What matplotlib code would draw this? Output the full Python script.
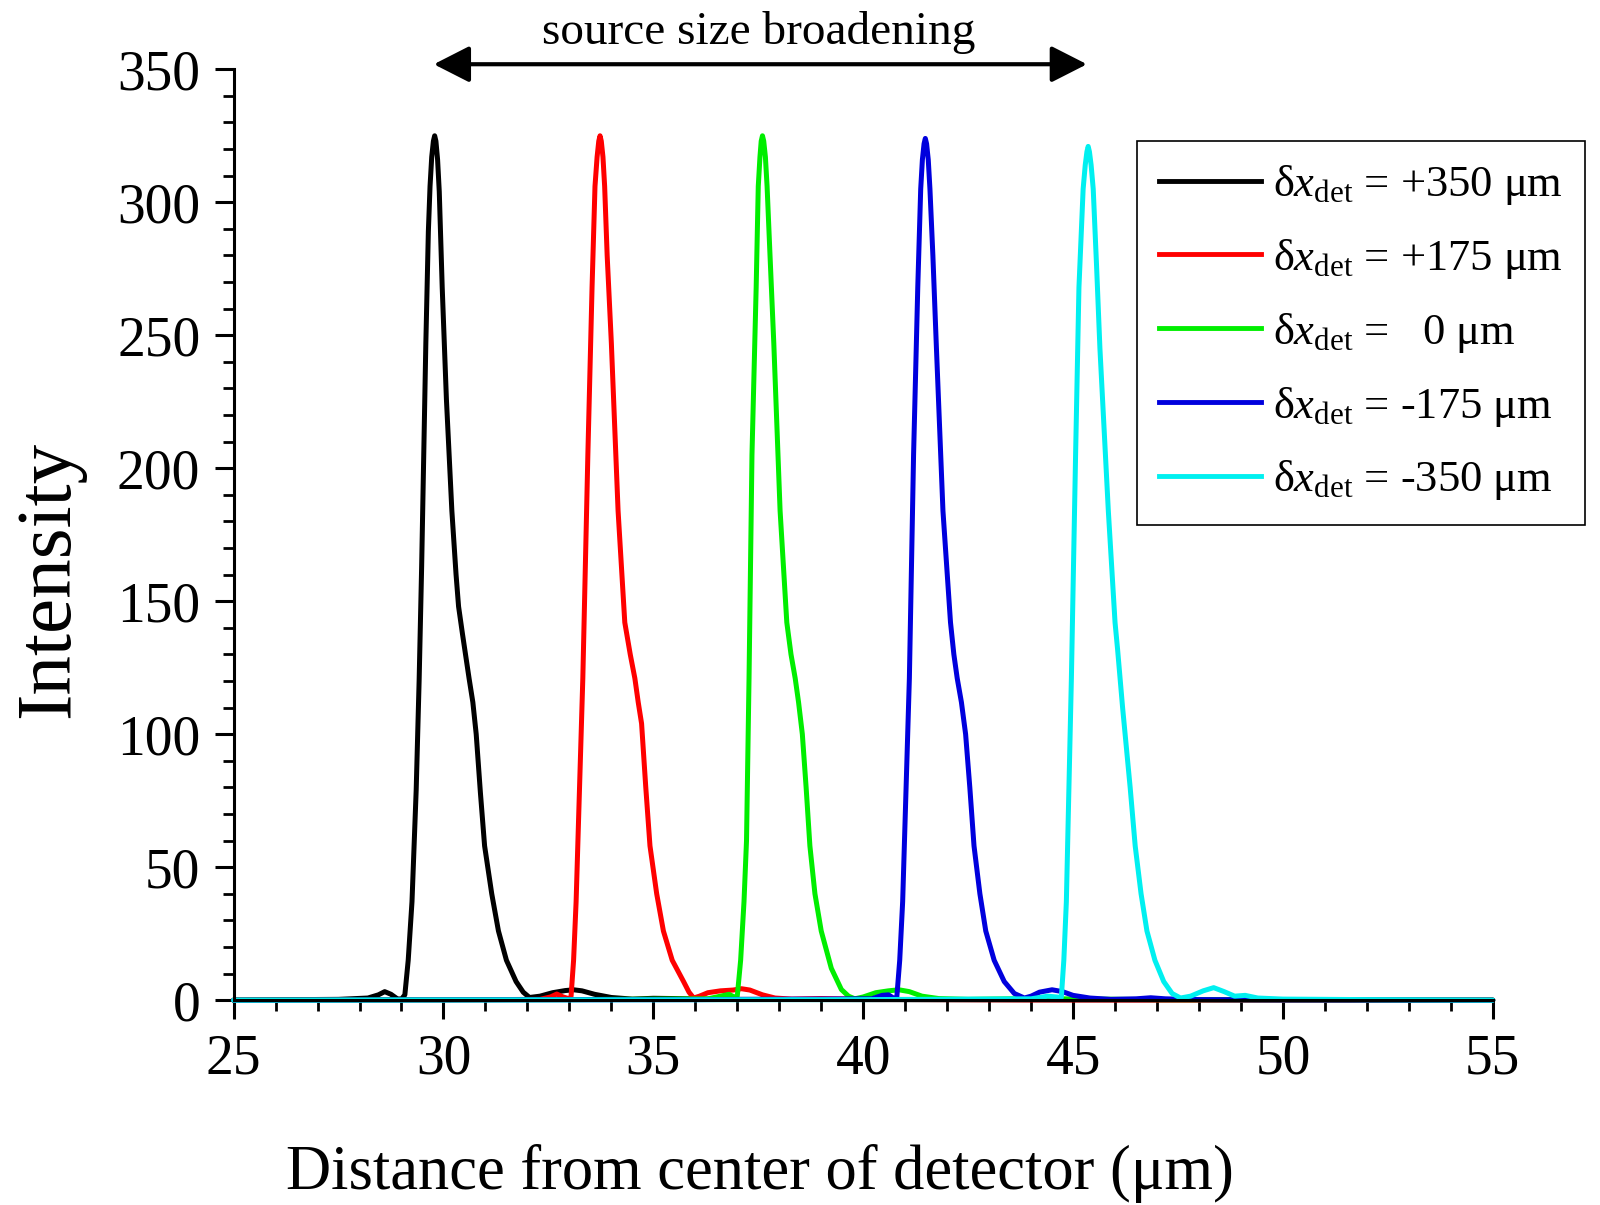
import matplotlib
matplotlib.use("Agg")
import matplotlib.pyplot as plt
from matplotlib.ticker import MultipleLocator
from matplotlib.lines import Line2D

plt.rcParams['font.family'] = ['Liberation Serif', 'DejaVu Serif']
plt.rcParams['mathtext.fontset'] = 'custom'
plt.rcParams['mathtext.rm'] = 'Liberation Serif'
plt.rcParams['mathtext.it'] = 'Liberation Serif:italic'

# ---- data ----
black_x = [25.0, 26.5, 27.5, 28.2, 28.45, 28.6, 28.75, 28.9, 29.0, 29.08, 29.16, 29.25, 29.35, 29.42, 29.48,
           29.58, 29.64, 29.68, 29.72, 29.76, 29.79, 29.82, 29.86, 29.9, 29.97, 30.07, 30.2, 30.3, 30.36, 30.45, 30.61,
           30.7, 30.78, 30.88, 30.98, 31.15, 31.31, 31.5, 31.73, 31.9, 32.05, 32.3, 32.6, 32.9, 33.1, 33.3,
           33.6, 34.0, 34.5, 35.0, 35.5, 36.5, 40.0, 45.0, 55.0]
black_y = [0, 0.2, 0.3, 0.8, 2.0, 3.2, 2.2, 0.5, 0.4, 2, 15, 37, 79, 120, 163,
           247, 289, 306, 317, 323, 325, 323, 316, 304, 268, 226, 184, 160, 148, 138, 121,
           112, 100, 78, 58, 40, 26, 15, 7, 3, 1, 1.5, 2.8, 3.6, 3.9, 3.5,
           2.2, 1.0, 0.4, 0.7, 0.6, 0.3, 0.2, 0.1, 0]

red_x = [25.0, 30.0, 32.3, 32.55, 32.7, 32.85, 33.0, 33.04, 33.1, 33.16, 33.24, 33.32, 33.44, 33.54, 33.61,
         33.66, 33.7, 33.73, 33.76, 33.8, 33.84, 33.9, 34.0, 34.16, 34.32, 34.45, 34.56, 34.64, 34.72, 34.82, 34.92,
         35.08, 35.24, 35.45, 35.72, 35.85, 35.96, 36.1, 36.3, 36.6, 36.9, 37.1, 37.3, 37.6, 37.9, 38.3,
         39.0, 40.0, 44.0, 55.0]
red_y = [0, 0.1, 0.3, 1.2, 2.3, 1.2, 0.5, 1.5, 15, 37, 79, 121, 205, 268, 306,
         317, 323, 325, 323, 317, 306, 280, 247, 184, 142, 130, 121, 112, 104, 80, 58,
         40, 26, 15, 7, 3, 0.8, 1.5, 2.8, 3.5, 3.8, 4.3, 3.8, 2.0, 0.8, 0.4,
         0.6, 0.3, 0.1, 0]

green_x = [25.0, 33.0, 36.3, 36.6, 36.8, 36.95, 37.0, 37.08, 37.16, 37.22, 37.28, 37.35, 37.45, 37.5,
           37.54, 37.57, 37.6, 37.63, 37.67, 37.71, 37.78, 37.87, 38.02, 38.18, 38.28, 38.38, 38.46, 38.55, 38.64,
           38.73, 38.85, 39.0, 39.24, 39.48, 39.65, 39.8, 40.0, 40.3, 40.6, 40.85, 41.1, 41.4, 41.8, 42.5,
           44.0, 47.0, 55.0]
green_y = [0, 0.2, 0.5, 1.5, 2.2, 1.0, 1.5, 15, 37, 60, 121, 205, 268, 306,
           317, 323, 325, 323, 317, 306, 280, 247, 184, 142, 130, 121, 112, 100, 80,
           58, 40, 26, 12, 4, 1.5, 0.5, 1.2, 2.8, 3.5, 3.9, 3.2, 1.5, 0.6, 0.3,
           0.6, 0.2, 0]

blue_x = [25.0, 36.0, 40.2, 40.45, 40.6, 40.72, 40.8, 40.87, 40.94, 41.02, 41.1, 41.2, 41.3, 41.37, 41.41,
          41.45, 41.48, 41.51, 41.55, 41.59, 41.66, 41.74, 41.9, 42.08, 42.16, 42.24, 42.34, 42.44, 42.54,
          42.64, 42.78, 42.92, 43.12, 43.36, 43.6, 43.84, 44.0, 44.2, 44.5, 44.75, 45.0, 45.4, 45.9, 46.5,
          46.85, 47.2, 48.0, 50.0, 55.0]
blue_y = [0, 0.2, 0.5, 1.8, 2.0, 0.8, 1.0, 15, 37, 79, 121, 205, 268, 305, 316,
          322, 324, 322, 316, 305, 280, 247, 184, 142, 130, 121, 112, 100, 80,
          58, 40, 26, 15, 7, 2.5, 0.8, 1.5, 3.0, 3.9, 3.2, 1.8, 0.8, 0.3, 0.5,
          0.9, 0.5, 0.2, 0.1, 0]

cyan_x = [25.0, 40.0, 44.0, 44.4, 44.6, 44.72, 44.78, 44.84, 44.9, 44.96, 45.06, 45.14, 45.24, 45.29, 45.33,
          45.36, 45.39, 45.43, 45.48, 45.56, 45.64, 45.84, 46.0, 46.06, 46.12, 46.18, 46.24, 46.36, 46.48,
          46.62, 46.76, 46.95, 47.16, 47.36, 47.56, 47.8, 48.1, 48.35, 48.6, 48.85, 49.1, 49.4, 50.0, 52.0, 55.0]
cyan_y = [0, 0.2, 0.5, 1.5, 1.2, 1.0, 15, 37, 79, 121, 205, 268, 305, 314, 319,
          321, 319, 314, 305, 276, 245, 184, 142, 132, 121, 110, 100, 80, 58,
          40, 26, 15, 7, 2.5, 0.8, 1.5, 3.5, 4.7, 3.2, 1.5, 1.8, 0.8, 0.4, 0.2, 0]

series_x = [black_x, red_x, green_x, blue_x, cyan_x]
series_y = [black_y, red_y, green_y, blue_y, cyan_y]
series_colors = ['#000000', '#ff0000', '#00ee00', '#0000dd', '#00f0f0']
offset_labels = ['+350', '+175', '  0', '-175', '-350']

x_ticks = [25, 30, 35, 40, 45, 50, 55]
y_ticks = [0, 50, 100, 150, 200, 250, 300, 350]

# ---- figure ----
fig = plt.figure(figsize=(16, 12.05), dpi=100)
ax = fig.add_axes([0.146, 0.170, 0.787, 0.7725])

for xs, ys, c in zip(series_x, series_y, series_colors):
    ax.plot(xs, ys, color=c, lw=3.6, clip_on=False,
            solid_joinstyle='round', solid_capstyle='round')

ax.set_xlim(25, 55)
ax.set_ylim(0, 350)
ax.set_xticks(x_ticks)
ax.set_yticks(y_ticks)
ax.xaxis.set_minor_locator(MultipleLocator(1))
ax.yaxis.set_minor_locator(MultipleLocator(10))
for s in ['top', 'right']:
    ax.spines[s].set_visible(False)
for s in ['left', 'bottom']:
    ax.spines[s].set_linewidth(2.2)
ax.tick_params(which='major', direction='out', length=14, width=2.2, labelsize=40, pad=10)
ax.tick_params(which='minor', direction='out', length=8, width=2.0)

fig.text(760 / 1600, 1 - 1189 / 1205, 'Distance from center of detector (\u03bcm)',
         ha='center', va='baseline', fontsize=45)
fig.text(68 / 1600, 1 - 579 / 1205, 'Intensity', rotation=90, rotation_mode='anchor',
         ha='center', va='baseline', fontsize=57)

# arrow + annotation
ax.annotate('', xy=(29.77, 351.9), xytext=(45.33, 351.9),
            arrowprops=dict(arrowstyle='<|-|>,head_length=0.55,head_width=0.28',
                            color='black', lw=3, mutation_scale=40,
                            shrinkA=0, shrinkB=0),
            annotation_clip=False)
fig.text(759 / 1600, 1 - 44 / 1205, 'source size broadening',
         ha='center', va='baseline', fontsize=34)

handles = [Line2D([], [], color=c, lw=3.5) for c in series_colors]
labels = ['\u03b4$x_{\\rm det}$ = %s \u03bcm' % o for o in offset_labels]
leg = fig.legend(handles, labels, loc='upper left',
                 bbox_to_anchor=(1137 / 1600, 1 - 141 / 1205),
                 bbox_transform=fig.transFigure, frameon=True, fancybox=False,
                 edgecolor='black', framealpha=1, borderaxespad=0, fontsize=32,
                 handlelength=2.3, handletextpad=0.25, labelspacing=0.67,
                 borderpad=0.5)
leg.get_frame().set_linewidth(1.2)

fig.savefig('out.png', dpi=100)
